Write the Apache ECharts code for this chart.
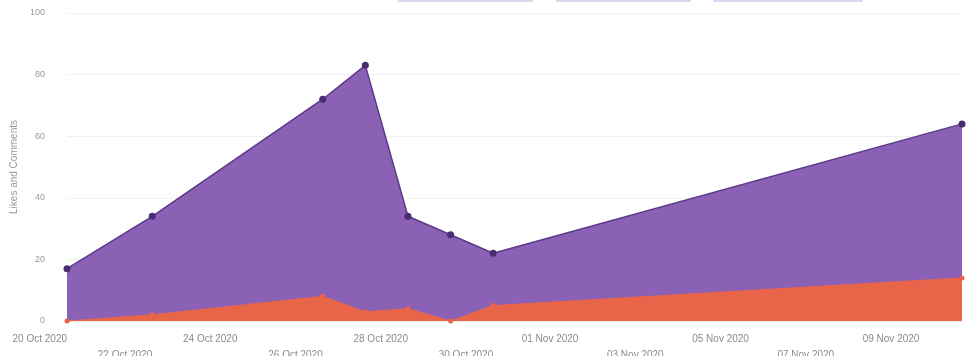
<!DOCTYPE html>
<html>
<head>
<meta charset="utf-8">
<script src="https://cdn.jsdelivr.net/npm/echarts@6/dist/echarts.min.js"></script>
<style>html,body{margin:0;padding:0;background:#fff}#c{width:971px;height:356px}</style>
</head>
<body>
<div id="c"></div>
<script>
const startDate = '2020-10-20';
const dates = ['2020-10-20','2020-10-22','2020-10-26','2020-10-27','2020-10-28','2020-10-29','2020-10-30','2020-11-10'];
const likes = [17, 34, 72, 83, 34, 28, 22, 64];
const comments = [0, 2, 8, 3, 4, 0, 5, 14];
const yTicks = [0, 20, 40, 60, 80, 100];
const months = ['Jan','Feb','Mar','Apr','May','Jun','Jul','Aug','Sep','Oct','Nov','Dec'];

function toUTC(s){ const p = s.split('-').map(Number); return Date.UTC(p[0], p[1]-1, p[2]); }
const t0 = toUTC(startDate);
function dayOff(s){ return (toUTC(s) - t0) / 86400000; }
function fmt(off){
  const d = new Date(t0 + off * 86400000);
  const dd = String(d.getUTCDate()).padStart(2,'0');
  return dd + ' ' + months[d.getUTCMonth()] + ' ' + d.getUTCFullYear();
}
const likesData = dates.map((d,i)=>[dayOff(d), likes[i]]);
const commentsData = dates.map((d,i)=>[dayOff(d), comments[i]]);

const chart = echarts.init(document.getElementById('c'));
chart.setOption({
  animation: false,
  grid: { left: 67, right: 9, top: 13, bottom: 35, containLabel: false, outerBoundsMode: 'none' },
  graphic: [
    { type: 'rect', shape: { x: 398, y: 0, width: 135, height: 2 }, style: { fill: '#ddd6f0' } },
    { type: 'rect', shape: { x: 556, y: 0, width: 135, height: 2 }, style: { fill: '#ddd6f0' } },
    { type: 'rect', shape: { x: 713, y: 0, width: 150, height: 2 }, style: { fill: '#ddd6f0' } }
  ],
  xAxis: {
    type: 'value',
    min: 0,
    max: 21,
    interval: 2,
    axisLine: { show: true, lineStyle: { color: '#e6e6e6' } },
    axisTick: { show: false },
    splitLine: { show: false },
    axisLabel: {
      color: '#8a8a8a',
      fontSize: 10,
      fontFamily: 'Liberation Sans, Arial, sans-serif',
      align: 'right',
      margin: 10,
      lineHeight: 16,
      showMinLabel: true,
      showMaxLabel: false,
      formatter: function(v){
        if (Math.abs(v - Math.round(v)) > 1e-6 || v < 0 || v > 20) return '';
        const idx = Math.round(v) / 2;
        const s = fmt(Math.round(v));
        return idx % 2 === 1 ? '\n' + s : s;
      }
    }
  },
  yAxis: {
    type: 'value',
    min: yTicks[0],
    max: yTicks[yTicks.length-1],
    interval: 20,
    name: 'Likes and Comments',
    nameLocation: 'middle',
    nameGap: 47,
    nameTextStyle: { color: '#999', fontSize: 10, fontFamily: 'Liberation Sans, Arial, sans-serif' },
    axisLine: { show: false },
    axisTick: { show: false },
    splitLine: { lineStyle: { color: '#f0f0f0' } },
    axisLabel: { color: '#999', fontSize: 9, margin: 22, fontFamily: 'Liberation Sans, Arial, sans-serif' }
  },
  series: [
    {
      name: 'Likes',
      type: 'line',
      data: likesData,
      symbol: 'circle',
      symbolSize: 7,
      itemStyle: { color: '#4b2c74' },
      lineStyle: { color: '#5a3a88', width: 1.5 },
      areaStyle: { color: '#8b61b5', opacity: 1 },
      z: 2
    },
    {
      name: 'Comments',
      type: 'line',
      data: commentsData,
      symbol: 'circle',
      symbolSize: 5,
      itemStyle: { color: '#e8654a' },
      lineStyle: { color: '#e8654a', width: 1 },
      areaStyle: { color: '#e8654a', opacity: 1 },
      z: 3
    }
  ]
});
</script>
</body>
</html>
